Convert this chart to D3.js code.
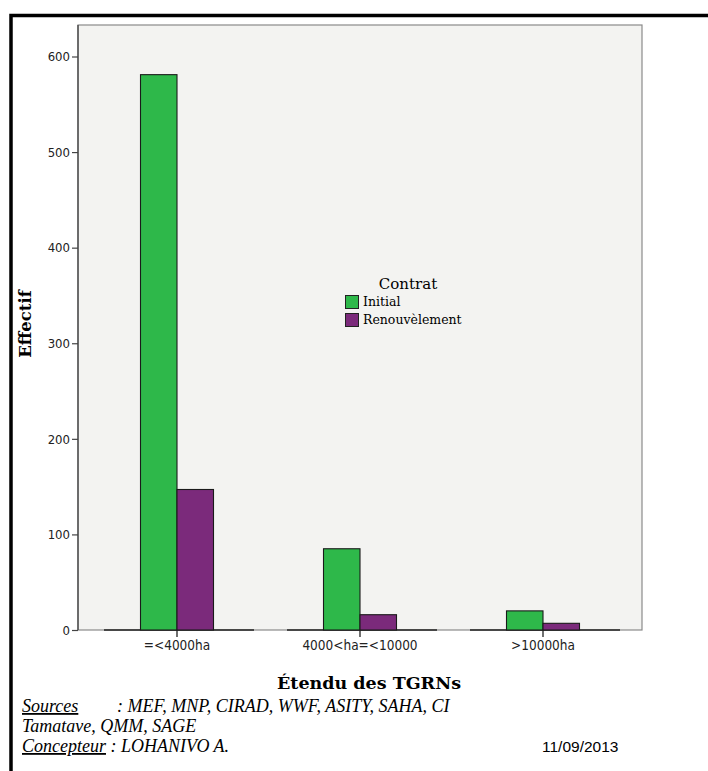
<!DOCTYPE html>
<html><head><meta charset="utf-8">
<script src="https://cdn.jsdelivr.net/npm/d3@7"></script>
<style>html,body{margin:0;padding:0;background:#fff;overflow:hidden}</style>
</head><body>
<script>
const categories = ["=<4000ha", "4000<ha=<10000", ">10000ha"];
const seriesNames = ["Initial", "Renouvèlement"];
const initialValues = [581, 85, 20];
const renouvValues = [147, 16, 7];
const yTicks = [0, 100, 200, 300, 400, 500, 600];
const colors = ["#2eb84a", "#7b2a7b"];

const W = 708, H = 771;
const svg = d3.select("body").append("svg").attr("width", W).attr("height", H);

// outer frame
svg.append("rect").attr("x", 11).attr("y", 15.5).attr("width", 720).attr("height", 800)
  .attr("fill", "#fff").attr("stroke", "#000").attr("stroke-width", 3.5);

const plot = {left: 78, top: 25, right: 642, bottom: 630};
svg.append("rect").attr("x", plot.left).attr("y", plot.top)
  .attr("width", plot.right - plot.left).attr("height", plot.bottom - plot.top)
  .attr("fill", "#f3f3f1").attr("stroke", "#8a8a8a").attr("stroke-width", 1.2);

const y = d3.scaleLinear().domain([0, 600]).range([plot.bottom, 56.5]);
const x = d3.scaleBand().domain(categories).range([85.5, 634.5]);
const sub = d3.scaleBand().domain(seriesNames).range([-36.5, 36.5]);

// y axis
const yAxis = d3.axisLeft(y).tickValues(yTicks).tickSize(6).tickPadding(2).tickFormat(d3.format("d"));
const gy = svg.append("g").attr("transform", `translate(${plot.left},0)`).call(yAxis);
gy.select(".domain").attr("stroke", "#444").attr("stroke-width", 1.3).attr("d", `M0,${plot.top}V${plot.bottom}`);
gy.selectAll(".tick line").attr("stroke", "#444").attr("stroke-width", 1.2);
gy.selectAll(".tick text").attr("font-family", "DejaVu Sans Condensed, DejaVu Sans, sans-serif")
  .attr("font-size", 13).attr("fill", "#222");

// baseline dark segments (empty categories)
categories.forEach(c => {
  const cx = x(c) + x.bandwidth() / 2;
  svg.append("line").attr("x1", cx - 73).attr("x2", cx + 77).attr("y1", plot.bottom).attr("y2", plot.bottom)
    .attr("stroke", "#222").attr("stroke-width", 1.6);
});

// bars
const series = [initialValues, renouvValues];
series.forEach((vals, si) => {
  svg.append("g").selectAll("rect").data(vals).join("rect")
    .attr("x", (d, i) => x(categories[i]) + x.bandwidth() / 2 + sub(seriesNames[si]))
    .attr("y", d => y(d))
    .attr("width", sub.bandwidth())
    .attr("height", d => y(0) - y(d))
    .attr("fill", colors[si]).attr("stroke", "#1a1a1a").attr("stroke-width", 1.1);
});

// x axis
const xAxis = d3.axisBottom(x).tickSize(7).tickPadding(3);
const gx = svg.append("g").attr("transform", `translate(0,${plot.bottom})`).call(xAxis);
gx.select(".domain").remove();
gx.selectAll(".tick line").attr("stroke", "#222").attr("stroke-width", 1.3);
gx.selectAll(".tick text").attr("font-family", "DejaVu Sans Condensed, DejaVu Sans, sans-serif")
  .attr("font-size", 13.5).attr("fill", "#222");

// axis titles
svg.append("text").attr("x", 369).attr("y", 689).attr("text-anchor", "middle")
  .attr("font-family", "DejaVu Serif, serif").attr("font-weight", "bold").attr("font-size", 17.5)
  .text("Étendu des TGRNs");
svg.append("text").attr("transform", "translate(31,324) rotate(-90)").attr("text-anchor", "middle")
  .attr("font-family", "DejaVu Serif, serif").attr("font-weight", "bold").attr("font-size", 16.5)
  .text("Effectif");

// legend
const lg = svg.append("g");
lg.append("text").attr("x", 408).attr("y", 289).attr("text-anchor", "middle")
  .attr("font-family", "DejaVu Serif, serif").attr("font-size", 15).text("Contrat");
seriesNames.forEach((n, i) => {
  lg.append("rect").attr("x", 345.5).attr("y", 295.5 + i * 18).attr("width", 13).attr("height", 13)
    .attr("fill", colors[i]).attr("stroke", "#222").attr("stroke-width", 1);
  lg.append("text").attr("x", 363).attr("y", 306 + i * 18)
    .attr("font-family", "DejaVu Serif, serif").attr("font-size", 12.5).text(n);
});

// footer
const ff = "Liberation Serif, serif";
const f1 = svg.append("text").attr("x", 22).attr("y", 712).attr("font-family", ff).attr("font-style", "italic").attr("font-size", 18);
f1.append("tspan").attr("text-decoration", "underline").text("Sources");
f1.append("tspan").attr("x", 117).text(": MEF, MNP, CIRAD, WWF, ASITY, SAHA, CI");
svg.append("text").attr("x", 22).attr("y", 732).attr("font-family", ff).attr("font-style", "italic").attr("font-size", 18)
  .text("Tamatave, QMM, SAGE");
const f3 = svg.append("text").attr("x", 22).attr("y", 752).attr("font-family", ff).attr("font-style", "italic").attr("font-size", 18);
f3.append("tspan").attr("text-decoration", "underline").text("Concepteur");
f3.append("tspan").text(" : LOHANIVO A.");
svg.append("text").attr("x", 542).attr("y", 752).attr("font-family", "Liberation Sans, sans-serif").attr("font-size", 15.5)
  .text("11/09/2013");
</script>
</body></html>
